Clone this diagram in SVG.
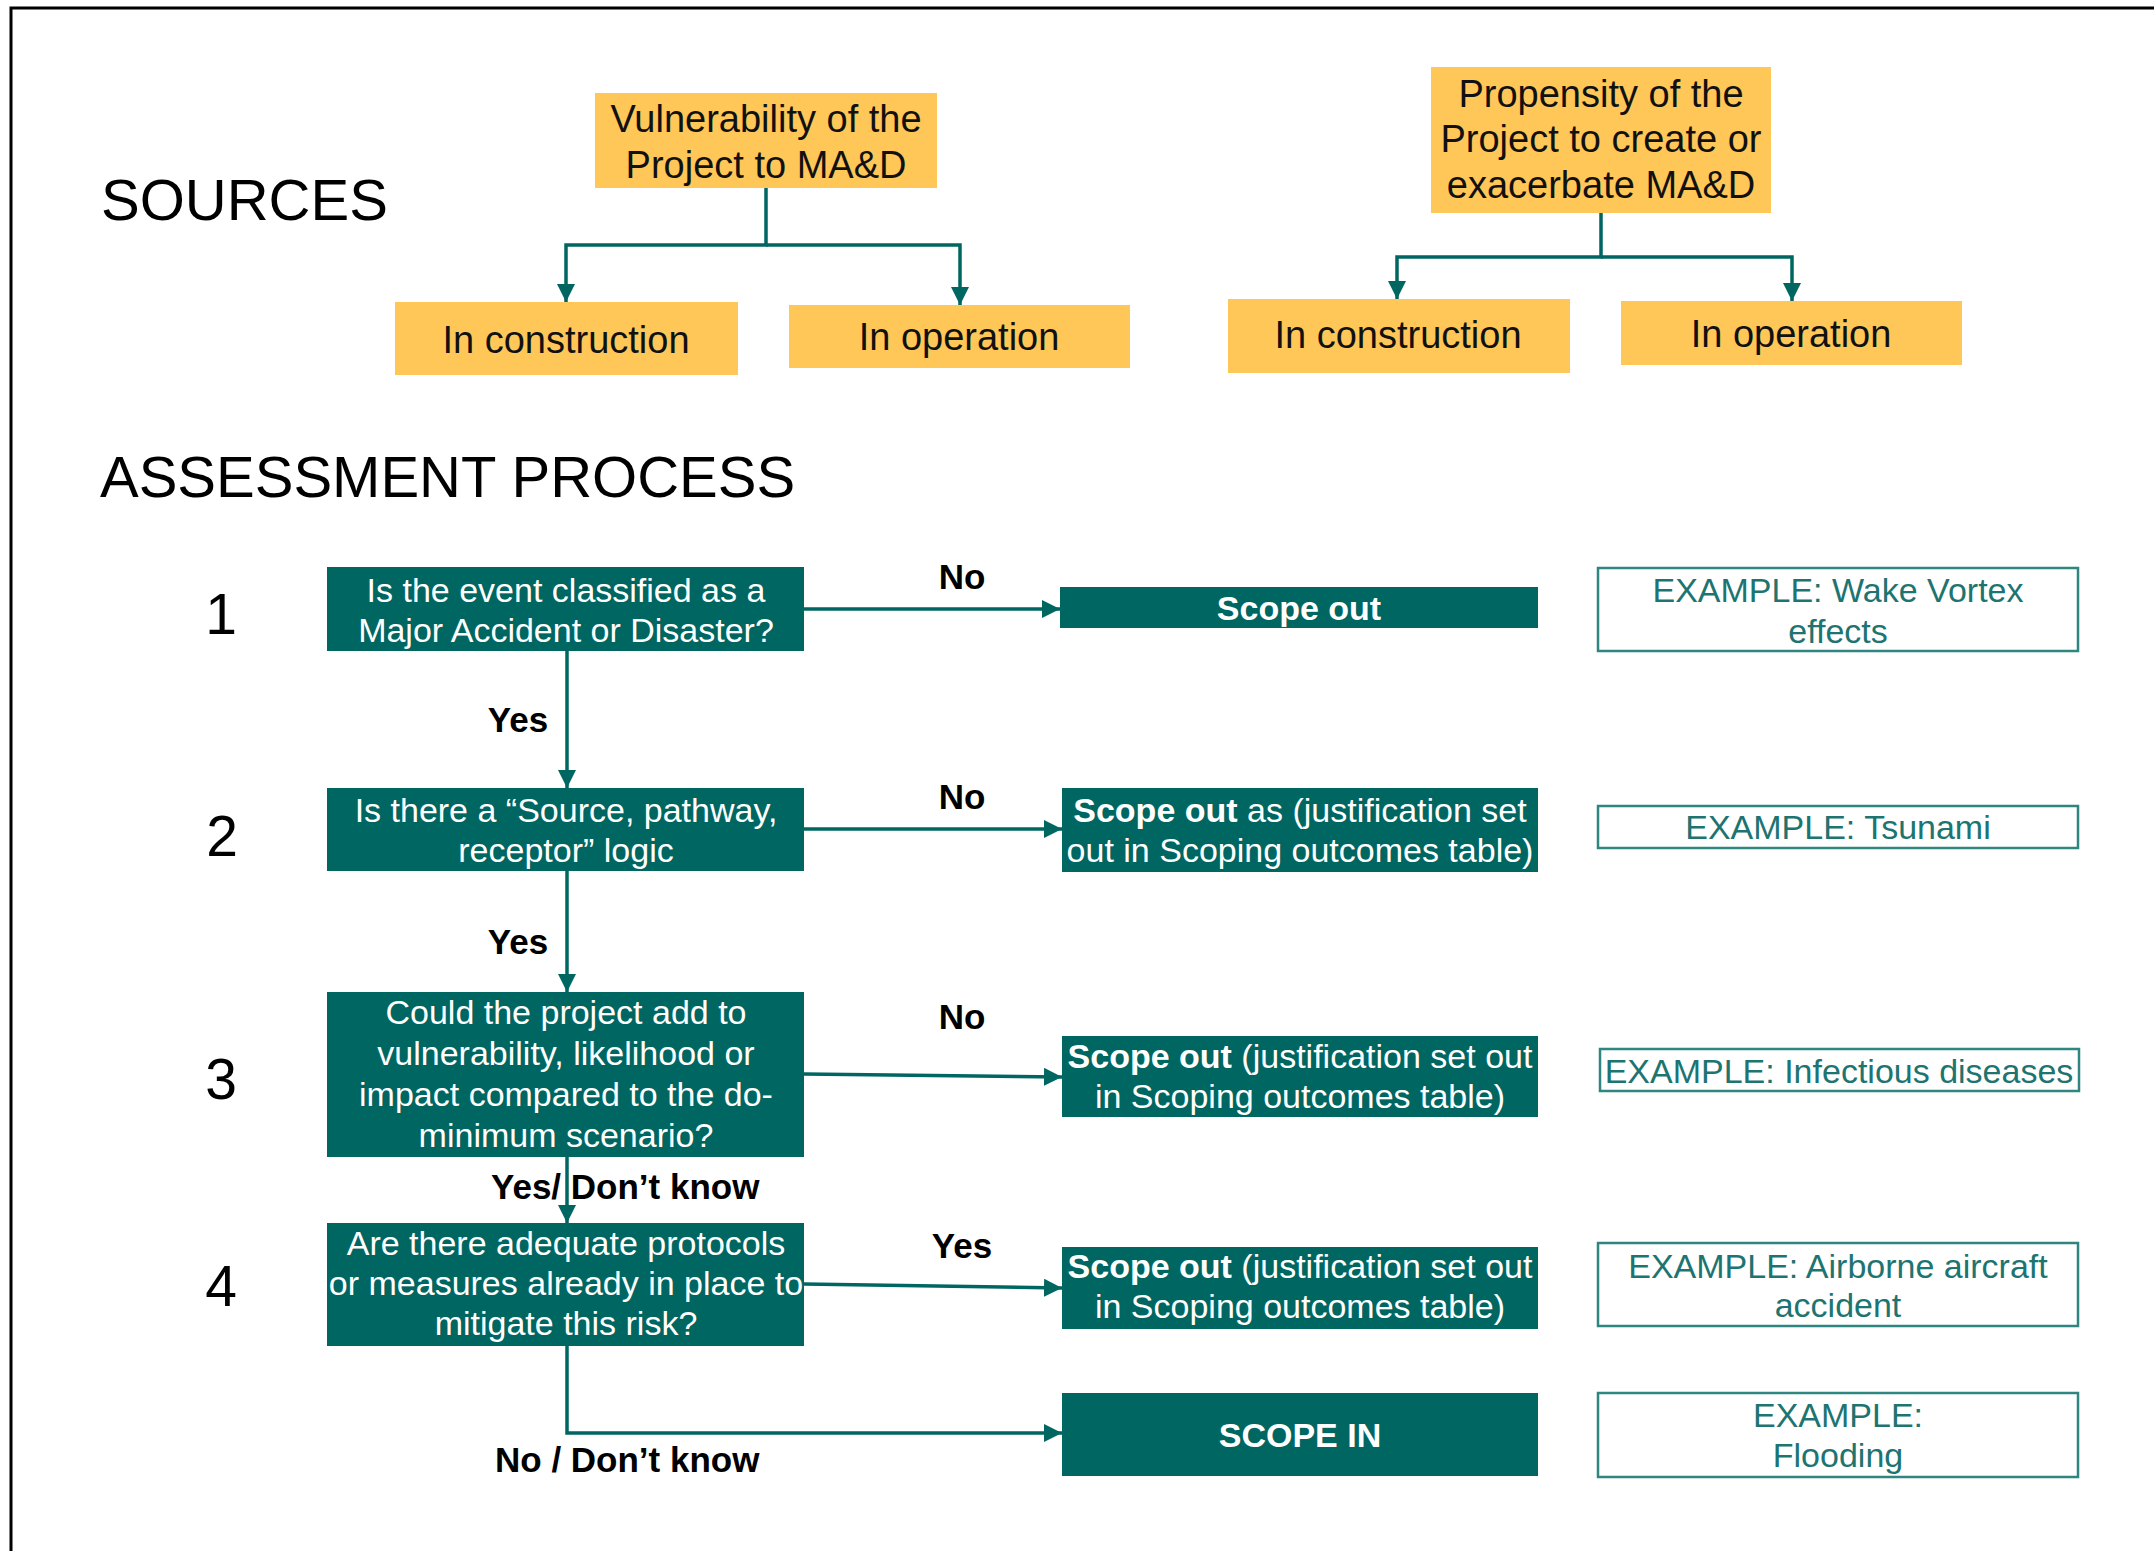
<svg xmlns="http://www.w3.org/2000/svg" width="2154" height="1551" viewBox="0 0 2154 1551">
<style>
text{font-family:"Liberation Sans",Arial,sans-serif}
.title{font-size:58px;fill:#000}
.num{font-size:57px;fill:#000;text-anchor:middle}
.src rect{fill:#FFC658}
.src text{font-size:38px;fill:#111;text-anchor:middle}
.q rect{fill:#006662}
.q text{font-size:34px;fill:#fff;text-anchor:middle}
.b{font-weight:bold}
.ex rect{fill:#fff;stroke:#2f8580;stroke-width:2.5}
.ex text{font-size:34px;fill:#1d7470;text-anchor:middle}
.lbl{font-size:35px;font-weight:bold;fill:#000}
.c{text-anchor:middle}
.conn path{fill:none;stroke:#006662;stroke-width:3.5}
</style>
<defs>
<marker id="ah" viewBox="0 0 18 18" markerWidth="18" markerHeight="18" refX="18" refY="9" orient="auto" markerUnits="userSpaceOnUse">
<path d="M0,0 L18,9 L0,18 z" fill="#006662"/>
</marker>
</defs>
<rect x="0" y="0" width="2154" height="1551" fill="#fff"/>
<path d="M11,1551 V8 H2154" fill="none" stroke="#000" stroke-width="3"/>

<text class="title" x="101" y="220">SOURCES</text>
<text class="title" x="100" y="497">ASSESSMENT PROCESS</text>

<g id="vuln" class="src"><rect x="595" y="93" width="342" height="95"/>
<text x="766" y="132">Vulnerability of the</text><text x="766" y="178">Project to MA&amp;D</text></g>
<g id="vuln-con" class="src"><rect x="395" y="302" width="343" height="73"/><text x="566" y="353">In construction</text></g>
<g id="vuln-op" class="src"><rect x="789" y="305" width="341" height="63"/><text x="959" y="350">In operation</text></g>

<g id="prop" class="src"><rect x="1431" y="67" width="340" height="146"/>
<text x="1601" y="107">Propensity of the</text><text x="1601" y="152">Project to create or</text><text x="1601" y="198">exacerbate MA&amp;D</text></g>
<g id="prop-con" class="src"><rect x="1228" y="299" width="342" height="74"/><text x="1398" y="348">In construction</text></g>
<g id="prop-op" class="src"><rect x="1621" y="301" width="341" height="64"/><text x="1791" y="347">In operation</text></g>

<text class="num" x="221" y="634">1</text>
<text class="num" x="222" y="856">2</text>
<text class="num" x="221" y="1099">3</text>
<text class="num" x="221" y="1306">4</text>

<g id="q1" class="q"><rect x="327" y="567" width="477" height="84"/>
<text x="566" y="602">Is the event classified as a</text><text x="566" y="642">Major Accident or Disaster?</text></g>
<g id="q2" class="q"><rect x="327" y="788" width="477" height="83"/>
<text x="566" y="822">Is there a “Source, pathway,</text><text x="566" y="862">receptor” logic</text></g>
<g id="q3" class="q"><rect x="327" y="992" width="477" height="165"/>
<text x="566" y="1024">Could the project add to</text><text x="566" y="1065">vulnerability, likelihood or</text><text x="566" y="1106">impact compared to the do-</text><text x="566" y="1147">minimum scenario?</text></g>
<g id="q4" class="q"><rect x="327" y="1223" width="477" height="123"/>
<text x="566" y="1255">Are there adequate protocols</text><text x="566" y="1295">or measures already in place to</text><text x="566" y="1335">mitigate this risk?</text></g>

<g id="so1" class="q"><rect x="1060" y="587" width="478" height="41"/><text class="b" x="1299" y="620">Scope out</text></g>
<g id="so2" class="q"><rect x="1062" y="788" width="476" height="84"/>
<text x="1300" y="822"><tspan class="b">Scope out</tspan> as (justification set</text><text x="1300" y="862">out in Scoping outcomes table)</text></g>
<g id="so3" class="q"><rect x="1062" y="1036" width="476" height="81"/>
<text x="1300" y="1068"><tspan class="b">Scope out</tspan> (justification set out</text><text x="1300" y="1108">in Scoping outcomes table)</text></g>
<g id="so4" class="q"><rect x="1062" y="1247" width="476" height="82"/>
<text x="1300" y="1278"><tspan class="b">Scope out</tspan> (justification set out</text><text x="1300" y="1318">in Scoping outcomes table)</text></g>
<g id="scopein" class="q"><rect x="1062" y="1393" width="476" height="83"/><text class="b" x="1300" y="1447">SCOPE IN</text></g>

<g id="ex1" class="ex"><rect x="1598" y="568" width="480" height="83"/><text x="1838" y="602">EXAMPLE: Wake Vortex</text><text x="1838" y="643">effects</text></g>
<g id="ex2" class="ex"><rect x="1598" y="806" width="480" height="42"/><text x="1838" y="839">EXAMPLE: Tsunami</text></g>
<g id="ex3" class="ex"><rect x="1600" y="1049" width="479" height="42"/><text x="1839" y="1083">EXAMPLE: Infectious diseases</text></g>
<g id="ex4" class="ex"><rect x="1598" y="1243" width="480" height="83"/><text x="1838" y="1278">EXAMPLE: Airborne aircraft</text><text x="1838" y="1317">accident</text></g>
<g id="ex5" class="ex"><rect x="1598" y="1393" width="480" height="84"/><text x="1838" y="1427">EXAMPLE:</text><text x="1838" y="1467">Flooding</text></g>

<g id="connectors" class="conn">
<path d="M766,188 V245 H566 V302" marker-end="url(#ah)"/>
<path d="M766,245 H960 V305" marker-end="url(#ah)"/>
<path d="M1601,213 V257 H1397 V299" marker-end="url(#ah)"/>
<path d="M1601,257 H1792 V301" marker-end="url(#ah)"/>
<path d="M804,609 H1060" marker-end="url(#ah)"/>
<path d="M567,651 V788" marker-end="url(#ah)"/>
<path d="M804,829 H1062" marker-end="url(#ah)"/>
<path d="M567,871 V992" marker-end="url(#ah)"/>
<path d="M804,1074 L1062,1077" marker-end="url(#ah)"/>
<path d="M567,1157 V1223" marker-end="url(#ah)"/>
<path d="M804,1284 L1062,1288" marker-end="url(#ah)"/>
<path d="M567,1346 V1433 H1062" marker-end="url(#ah)"/>
</g>

<text class="lbl c" x="962" y="589">No</text>
<text class="lbl c" x="518" y="732">Yes</text>
<text class="lbl c" x="962" y="809">No</text>
<text class="lbl c" x="518" y="954">Yes</text>
<text class="lbl c" x="962" y="1029">No</text>
<text class="lbl" x="491" y="1199">Yes/ Don’t know</text>
<text class="lbl c" x="962" y="1258">Yes</text>
<text class="lbl" x="495" y="1472">No / Don’t know</text>
</svg>
